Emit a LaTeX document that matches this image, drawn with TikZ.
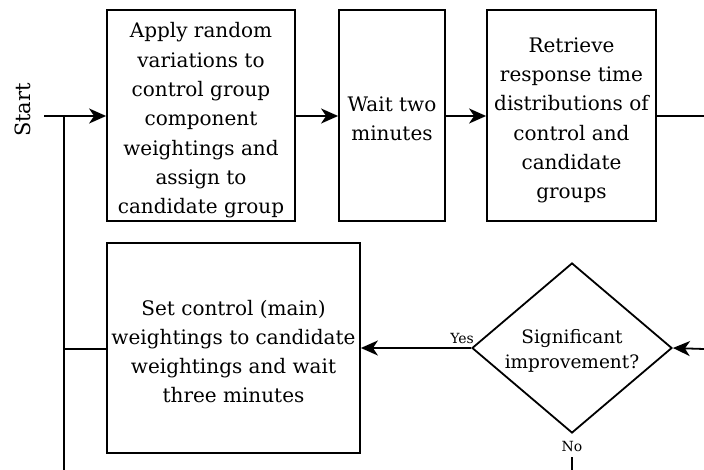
\documentclass[tikz,border=0pt]{standalone}
\usepackage{fontspec}
\setmainfont{DejaVu Serif}
\usetikzlibrary{shapes.geometric,arrows.meta}

\tikzset{
  procbox/.style={draw, line width=1.8pt, inner sep=0pt},
  boxtext/.style={align=center, inner sep=0pt, font=\fontsize{20}{29.3}\selectfont},
  decision/.style={draw, diamond, line width=1.8pt, inner sep=0pt, aspect=1.176},
  dectext/.style={align=center, inner sep=0pt, font=\fontsize{18.5}{25}\selectfont},
  flow/.style={line width=1.8pt},
  flowarrow/.style={flow, -{Stealth[length=17pt, width=15pt, inset=5pt]}},
  edgelabel/.style={font=\fontsize{14}{16}\selectfont, inner sep=1pt},
}

\begin{document}
\begin{tikzpicture}[x=1pt, y=-1pt]
\useasboundingbox (0,0) rectangle (704,470);

% process steps (frames)
\node[procbox, minimum width=188pt, minimum height=211pt] (apply) at (201,115.5) {};
\node[procbox, minimum width=106pt, minimum height=211pt] (wait) at (392,115.5) {};
\node[procbox, minimum width=169pt, minimum height=211pt] (retrieve) at (571.5,115.5) {};
\node[procbox, minimum width=253pt, minimum height=210pt] (setctl) at (233.5,348) {};

% process step texts, set slightly below the frame centres
\node[boxtext] (applytext) at ([yshift=-5pt]apply.center)
  {Apply random\\variations to\\control group\\component\\weightings and\\assign to\\candidate group};
\node[boxtext] (waittext) at ([yshift=-3pt]wait.center) {Wait two\\minutes};
\node[boxtext] (retrievetext) at ([yshift=-5pt]retrieve.center)
  {Retrieve\\response time\\distributions of\\control and\\candidate\\groups};
\node[boxtext] (setctltext) at ([yshift=-3.5pt]setctl.center)
  {Set control (main)\\weightings to candidate\\weightings and wait\\three minutes};

% decision
\node[decision, minimum width=200pt, minimum height=170pt] (signif) at (572,348) {};
\node[dectext] (signiftext) at ([yshift=-3pt]signif.center) {Significant\\improvement?};

% start label and entry
\node[rotate=90, font=\fontsize{21}{24}\selectfont] (start) at (23,110) {Start};
\coordinate (entry) at (44,116);
\coordinate (loopin) at (64,116);
\coordinate (loopend) at (64,470);
\coordinate (loopmid) at (64,349);
\coordinate (outright) at (704,116);
\coordinate (inright) at (704,349);
\coordinate (noend) at (572,470);

% branch labels
\node[edgelabel, anchor=base] (yes) at (462,343) {Yes};
\node[edgelabel, fill=white, anchor=north, minimum height=22pt] (no) at (572,435) {No};

% connectors
\draw[flowarrow] (entry) -- (apply.west |- entry);
\draw[flowarrow] (apply.east |- entry) -- (wait.west |- entry);
\draw[flowarrow] (wait.east |- entry) -- (retrieve.west |- entry);
\draw[flow] (retrieve.east |- entry) -- (outright);
\draw[flowarrow] (inright) -- (signif.east);
\draw[flowarrow] (signif.west) -- (setctl.east |- signif.west);
\draw[flow] (no.south) -- (noend);
\draw[flow] (loopin) -- (loopend);
\draw[flow] (loopmid) -- (setctl.west |- loopmid);
\end{tikzpicture}
\end{document}
